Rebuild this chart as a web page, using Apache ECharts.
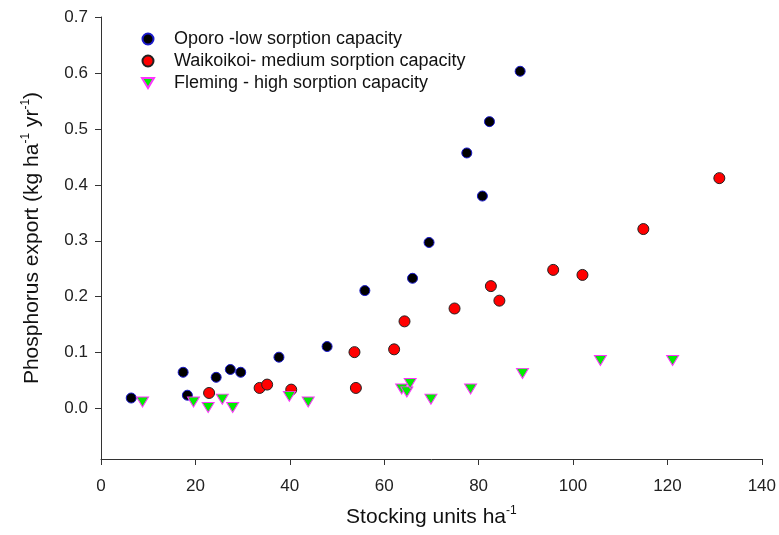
<!DOCTYPE html>
<html>
<head>
<meta charset="utf-8">
<script src="https://cdn.jsdelivr.net/npm/echarts@6/dist/echarts.min.js"></script>
<style>
  html, body { margin: 0; padding: 0; background: #fff; }
  #main { width: 779px; height: 535px; }
</style>
</head>
<body>
<div id="main"></div>
<script>
// stocking units ha-1 vs phosphorus export
var oporo = [
    [6.4, 0.019], [17.4, 0.065], [18.3, 0.024], [24.4, 0.056], [27.4, 0.070],
    [29.6, 0.065], [37.7, 0.092], [47.9, 0.111], [55.9, 0.211], [66.0, 0.233],
    [69.5, 0.297], [77.5, 0.457], [80.8, 0.380], [82.3, 0.513], [88.8, 0.603]
];
var waikoikoi = [
    [22.9, 0.028], [33.6, 0.037], [35.2, 0.043], [40.3, 0.034], [53.7, 0.101],
    [54.0, 0.037], [62.1, 0.106], [64.3, 0.156], [74.9, 0.179], [82.6, 0.219],
    [84.4, 0.193], [95.8, 0.248], [102.0, 0.239], [114.9, 0.321], [131.0, 0.412]
];
var fleming = [
    [8.8, 0.012], [19.6, 0.012], [22.7, 0.002], [25.7, 0.017], [27.9, 0.002],
    [39.9, 0.022], [43.9, 0.012], [63.7, 0.035], [64.8, 0.030], [65.5, 0.045],
    [69.9, 0.017], [78.3, 0.035], [89.3, 0.063], [105.8, 0.086], [121.1, 0.086]
];
var yTicks = [0, 0.1, 0.2, 0.3, 0.4, 0.5, 0.6, 0.7];
var seriesNames = [
    'Oporo -low sorption capacity',
    'Waikoikoi- medium sorption capacity',
    'Fleming - high sorption capacity'
];

var axisColor = '#333';
var labelColor = '#222';
var font = 'Liberation Sans, Arial, sans-serif';
var downTriangle = 'path://M0,0 L12,0 L6,10 Z';

var myChart = echarts.init(document.getElementById('main'));

var option = {
    backgroundColor: '#fff',
    animation: false,
    textStyle: { fontFamily: font },
    grid: { left: 101, right: 17, top: 17, bottom: 76 },
    legend: {
        orient: 'vertical',
        left: 136,
        top: 25,
        itemWidth: 12,
        itemHeight: 11,
        itemGap: 4,
        textStyle: { fontSize: 18, color: '#111', fontFamily: font, padding: [0, 0, 0, 15] },
        data: [
            { name: seriesNames[0], icon: 'circle' },
            { name: seriesNames[1], icon: 'circle' },
            { name: seriesNames[2], icon: downTriangle }
        ]
    },
    xAxis: {
        type: 'value',
        min: 0,
        max: 140,
        interval: 20,
        name: 'Stocking units ha{s|-1}',
        nameLocation: 'middle',
        nameGap: 46,
        nameTextStyle: {
            fontSize: 21, color: '#111', fontFamily: font, lineHeight: 24,
            rich: { s: { fontSize: 12, verticalAlign: 'top', color: '#111', lineHeight: 13 } }
        },
        splitLine: { show: false },
        axisLine: { onZero: false, lineStyle: { color: axisColor, width: 1 } },
        axisTick: { length: 6, lineStyle: { color: axisColor } },
        axisLabel: { fontSize: 17, color: labelColor, margin: 19 }
    },
    yAxis: {
        type: 'value',
        min: -0.09,
        max: 0.7,
        name: 'Phosphorus export (kg ha{s|-1} yr{s|-1})',
        nameLocation: 'middle',
        nameGap: 57,
        nameTextStyle: {
            fontSize: 21, color: '#111', fontFamily: font, lineHeight: 24,
            rich: { s: { fontSize: 12, verticalAlign: 'top', color: '#111', lineHeight: 13 } }
        },
        splitLine: { show: false },
        axisLine: { show: true, onZero: false, lineStyle: { color: axisColor, width: 1 } },
        axisTick: { show: true, length: 6, customValues: yTicks, lineStyle: { color: axisColor } },
        axisLabel: {
            fontSize: 17, color: labelColor, margin: 13,
            customValues: yTicks,
            formatter: function (v) { return v.toFixed(1); }
        }
    },
    series: [
        {
            name: seriesNames[0],
            type: 'scatter',
            symbol: 'circle',
            symbolSize: 10,
            itemStyle: { color: '#000', borderColor: '#1a1acc', borderWidth: 1, opacity: 1 },
            data: oporo
        },
        {
            name: seriesNames[1],
            type: 'scatter',
            symbol: 'circle',
            symbolSize: 11,
            itemStyle: { color: '#ff0000', borderColor: '#222', borderWidth: 1, opacity: 1 },
            data: waikoikoi
        },
        {
            name: seriesNames[2],
            type: 'scatter',
            symbol: downTriangle,
            symbolSize: [12, 10],
            itemStyle: { color: '#00ee00', borderColor: '#ff33ff', borderWidth: 1, opacity: 1 },
            data: fleming
        }
    ]
};

myChart.setOption(option, true);
</script>
</body>
</html>
